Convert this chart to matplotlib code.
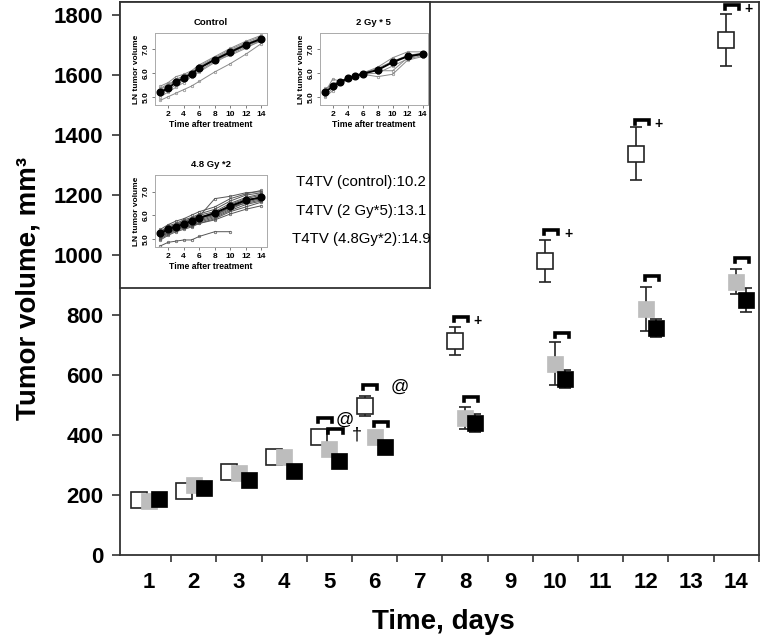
import numpy as np
import matplotlib.pyplot as plt

plt.rcParams['font.family'] = ['Liberation Sans', 'DejaVu Sans']

# ---- main chart data ----
day_labels = ['1', '2', '3', '4', '5', '6', '7', '8', '9', '10', '11', '12', '13', '14']
data_days = [1, 2, 3, 4, 5, 6, 8, 10, 12, 14]

control_mean = [182, 213, 277, 327, 393, 497, 713, 980, 1337, 1717]
control_err = [0, 0, 0, 0, 0, 33, 47, 70, 88, 87]
gy2_mean = [178, 233, 273, 327, 353, 393, 457, 637, 820, 910]
gy2_err = [0, 0, 0, 0, 0, 0, 37, 72, 73, 42]
gy48_mean = [187, 223, 250, 280, 313, 360, 440, 587, 757, 850]
gy48_err = [0, 0, 0, 0, 0, 0, 30, 30, 30, 40]

# significance brackets: (day, bracket height)
white_brackets = [(5, 457), (6, 567), (8, 793), (10, 1083), (12, 1450), (14, 1833)]
gray_brackets = [(5, 420), (6, 443), (8, 527), (10, 740), (12, 930), (14, 990)]
plus_days = [8, 10, 12, 14]

# ---- inset data (LN tumor volume) ----
ln_days = [1, 2, 3, 4, 5, 6, 8, 10, 12, 14]
ctrl_mean_ln = [5.20, 5.36, 5.62, 5.79, 5.97, 6.21, 6.57, 6.89, 7.20, 7.45]
ctrl_lines = [
    [5.45, 5.60, 5.85, 5.95, 6.10, 6.35, 6.70, 7.05, 7.35, 7.60],
    [5.30, 5.50, 5.75, 5.85, 6.05, 6.25, 6.60, 6.95, 7.25, 7.50],
    [5.10, 5.30, 5.50, 5.70, 5.90, 6.10, 6.50, 6.85, 7.15, 7.40],
    [4.85, 5.00, 5.15, 5.30, 5.45, 5.65, 6.05, 6.40, 6.80, 7.25],
    [5.20, 5.45, 5.70, 5.90, 6.00, 6.30, 6.65, 7.00, 7.30, 7.55],
    [5.00, 5.20, 5.40, 5.60, 5.85, 6.05, 6.45, 6.80, 7.10, 7.35],
    [5.35, 5.55, 5.65, 5.80, 6.00, 6.20, 6.55, 6.75, 7.05, 7.40],
]
gy2_mean_ln = [5.18, 5.45, 5.61, 5.79, 5.87, 5.97, 6.13, 6.46, 6.71, 6.81]
gy2_lines = [
    [5.30, 5.55, 5.65, 5.80, 5.90, 6.00, 6.25, 6.65, 6.90, 6.90],
    [5.05, 5.35, 5.60, 5.75, 5.85, 5.95, 5.85, 5.95, 6.55, 6.70],
    [5.20, 5.75, 5.65, 5.80, 5.90, 6.00, 6.20, 6.50, 6.75, 6.85],
    [5.00, 5.25, 5.55, 5.70, 5.85, 5.95, 6.00, 6.30, 6.60, 6.75],
    [5.35, 5.50, 5.60, 5.75, 5.90, 6.00, 6.10, 6.10, 6.65, 6.80],
]
gy48_mean_ln = [5.23, 5.41, 5.52, 5.62, 5.75, 5.89, 6.09, 6.38, 6.63, 6.75]
gy48_lines = [
    [5.40, 5.60, 5.75, 5.85, 6.00, 6.15, 6.35, 6.70, 6.90, 7.05],
    [5.30, 5.55, 5.65, 5.80, 5.90, 6.05, 6.25, 6.60, 6.85, 6.95],
    [5.20, 5.45, 5.60, 5.70, 5.85, 5.95, 6.70, 6.80, 6.95, 7.00],
    [5.15, 5.35, 5.50, 5.55, 5.70, 5.85, 6.05, 6.45, 6.70, 6.85],
    [5.35, 5.40, 5.55, 5.65, 5.80, 5.90, 6.00, 6.30, 6.60, 6.80],
    [5.05, 5.25, 5.40, 5.50, 5.60, 5.75, 5.95, 6.25, 6.55, 6.70],
    [5.25, 5.50, 5.60, 5.75, 5.85, 6.00, 6.15, 6.50, 6.75, 6.90],
    [5.00, 5.20, 5.35, 5.45, 5.55, 5.70, 5.90, 6.20, 6.45, 6.60],
    [5.10, 5.30, 5.45, 5.55, 5.65, 5.80, 6.00, 6.35, 6.50, 6.65],
    [5.30, 5.45, 5.60, 5.70, 5.75, 5.90, 6.10, 6.40, 6.65, 6.75],
    [4.95, 5.15, 5.30, 5.40, 5.50, 5.65, 5.80, 6.05, 6.25, 6.40],
    [5.10, 5.25, 5.40, 5.50, 5.55, 5.65, 5.85, 6.15, 6.35, 6.55],
]
gy48_short = [4.70, 4.85, 4.90, 4.95, 4.95, 5.10, 5.30, 5.30]

t4tv_text = ['T4TV (control):10.2', 'T4TV (2 Gy*5):13.1', 'T4TV (4.8Gy*2):14.9']

# ---- figure ----
fig = plt.figure(figsize=(7.6, 6.4), dpi=100)
ax = fig.add_axes([0.158, 0.133, 0.8405, 0.864])

offsets = [-0.22, 0.0, 0.22]
x_w = np.array(data_days) + offsets[0]
x_g = np.array(data_days) + offsets[1]
x_b = np.array(data_days) + offsets[2]

ebkw = dict(fmt='none', ecolor='#222222', elinewidth=1.2, capsize=4, capthick=1.2)
ax.errorbar(x_w, control_mean, yerr=np.where(np.array(control_err) > 0, control_err, np.nan), zorder=2, **ebkw)
ax.errorbar(x_g, gy2_mean, yerr=np.where(np.array(gy2_err) > 0, gy2_err, np.nan), zorder=2, **ebkw)
ax.errorbar(x_b, gy48_mean, yerr=np.where(np.array(gy48_err) > 0, gy48_err, np.nan), zorder=2, **ebkw)

ms = 11.5
ax.plot(x_w, control_mean, 's', ms=ms, mfc='white', mec='#222222', mew=1.2, zorder=3)
ax.plot(x_g, gy2_mean, 's', ms=ms, mfc='#bdbdbd', mec='#bdbdbd', mew=0.5, zorder=4)
ax.plot(x_b, gy48_mean, 's', ms=ms, mfc='black', mec='black', mew=0.5, zorder=5)


def bracket(x0, y):
    x1 = x0 + 0.31
    ax.plot([x0, x0, x1, x1], [y - 14, y, y, y - 14], color='black', lw=2.6,
            solid_joinstyle='miter', zorder=6, clip_on=False)


for d, y in white_brackets:
    bracket(d + offsets[0] - 0.03, y)
for d, y in gray_brackets:
    bracket(d + offsets[1] - 0.02, y)

for d, y in white_brackets:
    if d in plus_days:
        ax.text(d + offsets[0] + 0.5, y - 15, '+', fontsize=10, fontweight='bold',
                ha='center', va='center')
# day 5 / 6 symbols
ax.text(5 + 0.33, 447, '@', fontsize=13, ha='center', va='center')
ax.text(5 + 0.60, 398, '†', fontsize=13, ha='center', va='center')
ax.text(6 + 0.55, 557, '@', fontsize=13, ha='center', va='center')

ax.set_xlim(0.37, 14.5)
ax.set_ylim(0, 1843)
ax.set_xticks(range(1, 15))
ax.set_xticklabels(day_labels)
ax.set_xticks(np.arange(1.5, 15, 1), minor=True)
ax.tick_params(axis='x', which='major', length=0, pad=12, labelsize=16)
ax.tick_params(axis='x', which='minor', length=5, width=1.2, color='#333333')
ax.set_yticks(range(0, 1801, 200))
ax.tick_params(axis='y', length=6, width=1.2, color='#333333', labelsize=16, pad=6)
for lab in ax.get_xticklabels() + ax.get_yticklabels():
    lab.set_fontweight('bold')
for s in ax.spines.values():
    s.set_color('#333333')
    s.set_linewidth(1.3)

fig.text(0.037, 0.55, 'Tumor volume, mm³', rotation=90, fontsize=20, fontweight='bold',
         ha='center', va='center')
fig.text(0.583, 0.028, 'Time, days', fontsize=20, fontweight='bold', ha='center', va='center')

# ---- inset frame ----
inset = fig.add_axes([0.158, 0.55, 0.408, 0.447])
inset.set_xticks([])
inset.set_yticks([])
for s in inset.spines.values():
    s.set_color('#333333')
    s.set_linewidth(1.3)
inset.set_zorder(10)

for i, txt in enumerate(t4tv_text):
    inset.text(0.777, 0.37 - i * 0.1, txt, fontsize=10.8, ha='center', va='center',
               transform=inset.transAxes)


def small_panel(rect, title, lines, mean, short=None, line_color='#8a8a8a'):
    p = fig.add_axes(rect)
    p.set_zorder(11)
    for ln in lines:
        p.plot(ln_days, ln, '-o', color=line_color, lw=0.7, ms=1.8, mfc='none', mew=0.5)
    if short is not None:
        p.plot(ln_days[:len(short)], short, '-o', color=line_color, lw=0.7, ms=1.8, mfc='none', mew=0.5)
    p.plot(ln_days, mean, '-o', color='black', lw=1.4, ms=4.8)
    p.set_xlim(0.3, 14.7)
    p.set_ylim(4.65, 7.7)
    p.set_xticks([2, 4, 6, 8, 10, 12, 14])
    p.set_yticks([5.0, 6.0, 7.0])
    p.set_yticklabels(['5.0', '6.0', '7.0'], rotation=90, va='center')
    p.tick_params(labelsize=6, length=2.5, width=0.6, pad=1.5, color='#666666')
    for lab in p.get_xticklabels() + p.get_yticklabels():
        lab.set_fontweight('bold')
    for s in p.spines.values():
        s.set_color('#aaaaaa')
        s.set_linewidth(0.7)
    p.set_title(title, fontsize=6.8, fontweight='bold', pad=6)
    p.set_xlabel('Time after treatment', fontsize=6.2, fontweight='bold', labelpad=2)
    p.set_ylabel('LN tumor volume', fontsize=6, fontweight='bold', labelpad=2)
    return p


small_panel([0.204, 0.836, 0.147, 0.1125], 'Control', ctrl_lines, ctrl_mean_ln)
small_panel([0.421, 0.836, 0.142, 0.1125], '2 Gy * 5', gy2_lines, gy2_mean_ln)
small_panel([0.204, 0.614, 0.147, 0.1125], '4.8 Gy *2', gy48_lines, gy48_mean_ln,
            short=gy48_short, line_color='#555555')

fig.savefig('out.png', dpi=100)
